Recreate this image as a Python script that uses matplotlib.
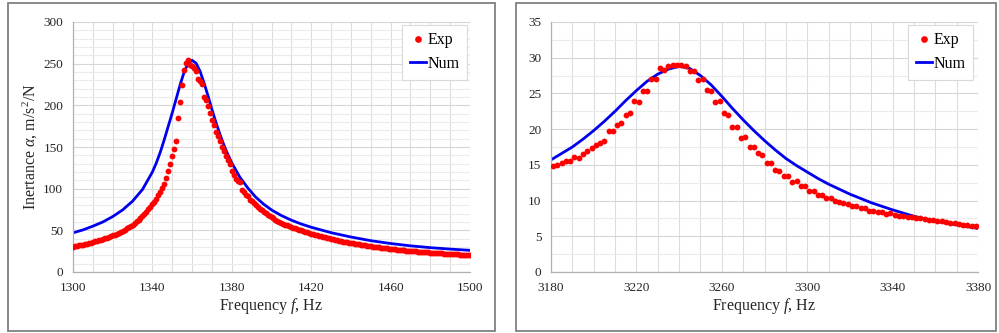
import numpy as np
import matplotlib
matplotlib.use("Agg")
import matplotlib.pyplot as plt
from matplotlib.patches import Rectangle
from matplotlib.ticker import MultipleLocator

plt.rcParams['font.family'] = ['Liberation Serif', 'DejaVu Serif']
plt.rcParams['mathtext.fontset'] = 'custom'
plt.rcParams['mathtext.rm'] = 'Liberation Serif'
plt.rcParams['mathtext.it'] = 'Liberation Serif:italic'

# ---------------- Left panel data ----------------
exp1_freq = np.arange(1300, 1501, 1)
exp1_vals = [
    30.5, 31.0, 31.5, 32.0, 32.5, 33.0, 33.6, 34.2, 34.8, 35.4,
    36.0, 36.7, 37.4, 38.1, 38.8, 39.6, 40.4, 41.2, 42.1, 43.0,
    44.0, 45.0, 46.1, 47.2, 48.4, 49.6, 50.9, 52.3, 53.8, 55.4,
    57.0, 58.8, 60.7, 62.7, 64.9, 67.2, 69.7, 72.4, 75.3, 78.3,
    81.5, 84.5, 88.0, 92.0, 96.0, 101, 106, 113, 121, 130,
    139, 148, 157, 185, 204, 225, 242, 251, 255, 248,
    247, 245, 241, 232, 229, 226, 210, 207, 199, 191,
    182, 177, 168, 163, 157, 150, 145, 139, 134, 130,
    121, 116, 112, 109, 108, 99, 96, 93, 91, 87,
    85, 83, 80.5, 78, 76, 74, 72, 70.5, 69, 67.5,
    66, 64.5, 63, 61.8, 60.5, 59.3, 58.2, 57, 56, 55,
    54.1, 53.2, 52.3, 51.5, 50.7, 49.9, 49.1, 48.4, 47.7, 47.0,
    46.2, 45.5, 44.8, 44.1, 43.4, 42.8, 42.1, 41.5, 40.9, 40.3,
    39.7, 39.1, 38.6, 38.0, 37.5, 37.0, 36.5, 36.0, 35.5, 35.2,
    35.0, 34.5, 34.0, 33.6, 33.2, 32.8, 32.4, 32.0, 31.6, 31.2,
    30.9, 30.5, 30.2, 29.9, 29.6, 29.3, 29.0, 28.7, 28.4, 28.1,
    27.8, 27.5, 27.3, 27.0, 26.8, 26.5, 26.3, 26.0, 25.8, 25.6,
    25.3, 25.1, 24.9, 24.7, 24.5, 24.3, 24.1, 23.9, 23.7, 23.5,
    23.3, 23.1, 22.9, 22.8, 22.6, 22.4, 22.3, 22.1, 21.9, 21.8,
    21.6, 21.5, 21.3, 21.2, 21.1, 20.9, 20.8, 20.7, 20.6, 20.5,
    20.4,
]
num1_freq = [1300, 1305, 1310, 1315, 1320, 1325, 1330, 1335, 1340, 1342, 1344,
             1346, 1348, 1350, 1352, 1354, 1356, 1358, 1360, 1362, 1364, 1366,
             1368, 1370, 1372, 1374, 1376, 1378, 1380, 1384, 1388, 1392, 1396,
             1400, 1405, 1410, 1415, 1420, 1430, 1440, 1450, 1460, 1470, 1480,
             1490, 1500]
num1_vals = [47, 50.5, 55, 60, 66.5, 74.5, 85, 99, 120, 131, 144,
             159, 175, 191, 208, 225, 240, 250.5, 254, 250.5, 241, 227,
             211.5, 195, 179.5, 165.5, 152.5, 141, 131, 114, 101, 90, 81.5,
             74.5, 67.7, 62.2, 57.6, 53.7, 47.2, 42.0, 37.6, 34.2, 31.4, 29.2,
             27.5, 26]

# ---------------- Right panel data ----------------
exp2_freq = np.arange(3181, 3380, 2)
exp2_vals = [
    14.8, 15.0, 15.2, 15.6, 15.6, 16.1, 16.0, 16.5, 17.0, 17.4,
    17.8, 18.1, 18.4, 19.8, 19.7, 20.6, 20.8, 22.0, 22.2, 23.9,
    23.8, 25.4, 25.4, 27.0, 27.0, 28.5, 28.3, 28.9, 29.0, 29.0,
    29.0, 28.9, 28.1, 28.1, 26.9, 27.0, 25.5, 25.4, 23.8, 23.9,
    22.2, 22.0, 20.3, 20.3, 18.8, 18.9, 17.5, 17.5, 16.6, 16.4,
    15.2, 15.2, 14.3, 14.2, 13.4, 13.4, 12.6, 12.7, 12.0, 12.0,
    11.4, 11.4, 10.8, 10.8, 10.4, 10.4, 9.9, 9.8, 9.7, 9.5,
    9.3, 9.3, 8.9, 8.9, 8.6, 8.6, 8.45, 8.45, 8.1, 8.2,
    8.0, 7.9, 7.8, 7.75, 7.65, 7.6, 7.6, 7.45, 7.3, 7.25,
    7.2, 7.15, 7.0, 6.9, 6.8, 6.75, 6.65, 6.6, 6.5, 6.45,
]
num2_freq = [3180, 3185, 3190, 3195, 3200, 3205, 3210, 3215, 3220, 3225, 3230,
             3235, 3240, 3245, 3250, 3255, 3260, 3265, 3270, 3275, 3280, 3285,
             3290, 3295, 3300, 3305, 3310, 3315, 3320, 3325, 3330, 3340, 3350,
             3360, 3370, 3380]
num2_vals = [15.7, 16.6, 17.5, 18.6, 19.8, 21.1, 22.5, 24.0, 25.4, 26.7, 27.7,
             28.4, 28.8, 28.5, 27.5, 26.2, 24.6, 22.9, 21.3, 19.8, 18.4, 17.1,
             15.9, 14.9, 14.0, 13.1, 12.3, 11.6, 10.9, 10.3, 9.7, 8.7, 7.8,
             7.1, 6.6, 6.1]

xticks1 = [1300, 1340, 1380, 1420, 1460, 1500]
yticks1 = [0, 50, 100, 150, 200, 250, 300]
xticks2 = [3180, 3220, 3260, 3300, 3340, 3380]
yticks2 = [0, 5, 10, 15, 20, 25, 30, 35]

W, H = 999, 333
fig = plt.figure(figsize=(W / 100, H / 100), dpi=100)

# panel borders
for (x0, x1) in [(8, 495), (516, 996)]:
    fig.add_artist(Rectangle((x0 / W, 2 / H), (x1 - x0) / W, (H - 5) / H,
                             transform=fig.transFigure, fill=False,
                             edgecolor='#808080', linewidth=1.3))

ax1 = fig.add_axes([73 / W, (H - 272) / H, 397 / W, 250 / H])
ax2 = fig.add_axes([551 / W, (H - 272) / H, 427 / W, 250 / H])


def style(ax, xlim, ylim, xt, yt, xminor, yminor):
    ax.set_xlim(*xlim)
    ax.set_ylim(*ylim)
    ax.set_xticks(xt)
    ax.set_yticks(yt)
    ax.xaxis.set_minor_locator(MultipleLocator(xminor))
    ax.yaxis.set_minor_locator(MultipleLocator(yminor))
    ax.grid(True, which='minor', axis='x', color='#dcdcdc', linewidth=0.8)
    ax.grid(True, which='major', axis='x', color='#dcdcdc', linewidth=0.8)
    ax.grid(True, which='minor', axis='y', color='#ebebeb', linewidth=0.8)
    ax.grid(True, which='major', axis='y', color='#d6d6d6', linewidth=0.8)
    ax.set_axisbelow(True)
    ax.tick_params(which='both', length=0, pad=7, labelsize=9.5, colors='#262626')
    for s in ['top', 'right']:
        ax.spines[s].set_visible(False)
    for s in ['left', 'bottom']:
        ax.spines[s].set_color('#b0b0b0')
        ax.spines[s].set_linewidth(0.9)


style(ax1, (1300, 1500), (0, 300), xticks1, yticks1, 10, 10)
style(ax2, (3180, 3380), (0, 35), xticks2, yticks2, 10, 2.5)

for ax, ef, ev, nf, nv in [(ax1, exp1_freq, exp1_vals, num1_freq, num1_vals),
                           (ax2, exp2_freq, exp2_vals, num2_freq, num2_vals)]:
    ax.plot(nf, nv, color='#0000ee', linewidth=2.0, label='Num', zorder=2,
            solid_joinstyle='round')
    ax.plot(ef, ev, linestyle='none', marker='o', markersize=4.2,
            color='#ff0000', markeredgewidth=0, label='Exp', zorder=3)
    ax.set_xlabel('Frequency $f$, Hz', fontsize=11.5, color='#262626')
    ax.xaxis.set_label_coords(0.5, -0.095)
    h, l = ax.get_legend_handles_labels()
    leg = ax.legend([h[1], h[0]], [l[1], l[0]], loc='upper right',
                    bbox_to_anchor=(0.993 if ax is ax1 else 0.989, 0.99),
                    fontsize=11.5, frameon=True, fancybox=False,
                    edgecolor='#d9d9d9', framealpha=1, handlelength=1.0,
                    handletextpad=0.1, labelspacing=0.45, borderpad=0.5,
                    borderaxespad=0, markerscale=1.15)
    leg.get_frame().set_linewidth(0.8)

ax1.set_ylabel('Inertance $\\alpha$, m/s$^2$/N', fontsize=11.5, color='#262626')
ax1.yaxis.set_label_coords(-0.083, 0.5)

fig.savefig('out.png', dpi=100)
